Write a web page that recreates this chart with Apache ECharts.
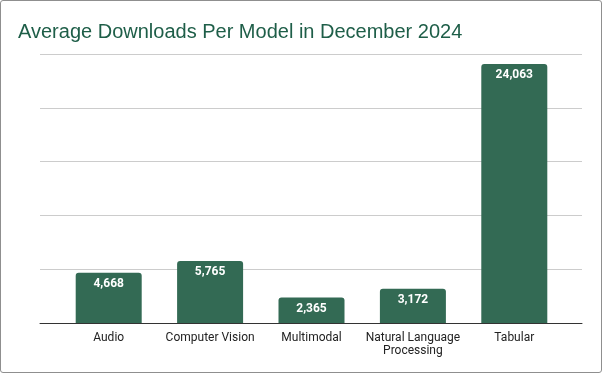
<!DOCTYPE html>
<html><head><meta charset="utf-8">
<script src="https://cdn.jsdelivr.net/npm/echarts@6/dist/echarts.min.js"></script>
<style>
html,body{margin:0;padding:0;background:#fff;}
#c{width:602px;height:373px;box-sizing:border-box;border:1px solid #8f8f8f;border-radius:3px;}
</style></head><body>
<div id="c"></div>
<script>
const categories = ['Audio', 'Computer Vision', 'Multimodal', 'Natural Language\nProcessing', 'Tabular'];
const downloads = [4668, 5765, 2365, 3172, 24063];
const titleText = 'Average Downloads Per Model in December 2024';

const chart = echarts.init(document.getElementById('c'), null, {renderer: 'canvas'});
chart.setOption({
  animation: false,
  title: {text: titleText, left: 17, top: 21, padding: 0,
    textStyle: {fontFamily: '"Liberation Sans", Arial, sans-serif', fontSize: 20, fontWeight: 'normal', color: '#1e5e48'}},
  grid: [
    {left: 39, right: 19, top: 53, bottom: 49},
    {left: 57, right: 36, top: 53, bottom: 49}
  ],
  xAxis: [
    {gridIndex: 0, type: 'category', data: categories, axisLabel: {show: false}, axisTick: {show: false},
     axisLine: {show: true, lineStyle: {color: '#333', width: 1}}},
    {gridIndex: 1, type: 'category', data: categories, axisTick: {show: false}, axisLine: {show: false},
     axisLabel: {interval: 0, fontFamily: 'Roboto, sans-serif', fontSize: 12, color: '#222', lineHeight: 13, margin: 8}}
  ],
  yAxis: [
    {gridIndex: 0, type: 'value', min: 0, max: 25000, interval: 5000, axisLabel: {show: false},
     axisLine: {show: false}, axisTick: {show: false}, splitLine: {lineStyle: {color: '#cccccc'}}},
    {gridIndex: 1, type: 'value', min: 0, max: 25000, interval: 5000, show: false, splitLine: {show: false}}
  ],
  series: [{
    type: 'bar', xAxisIndex: 1, yAxisIndex: 1, data: downloads, barWidth: 66,
    itemStyle: {color: '#336a54', borderRadius: [3, 3, 0, 0]},
    label: {show: true, position: 'insideTop', distance: 5, color: '#fff', fontWeight: 'bold',
      fontFamily: 'Roboto, sans-serif', fontSize: 12,
      formatter: p => p.value.toLocaleString('en-US')}
  }]
});
</script></body></html>
